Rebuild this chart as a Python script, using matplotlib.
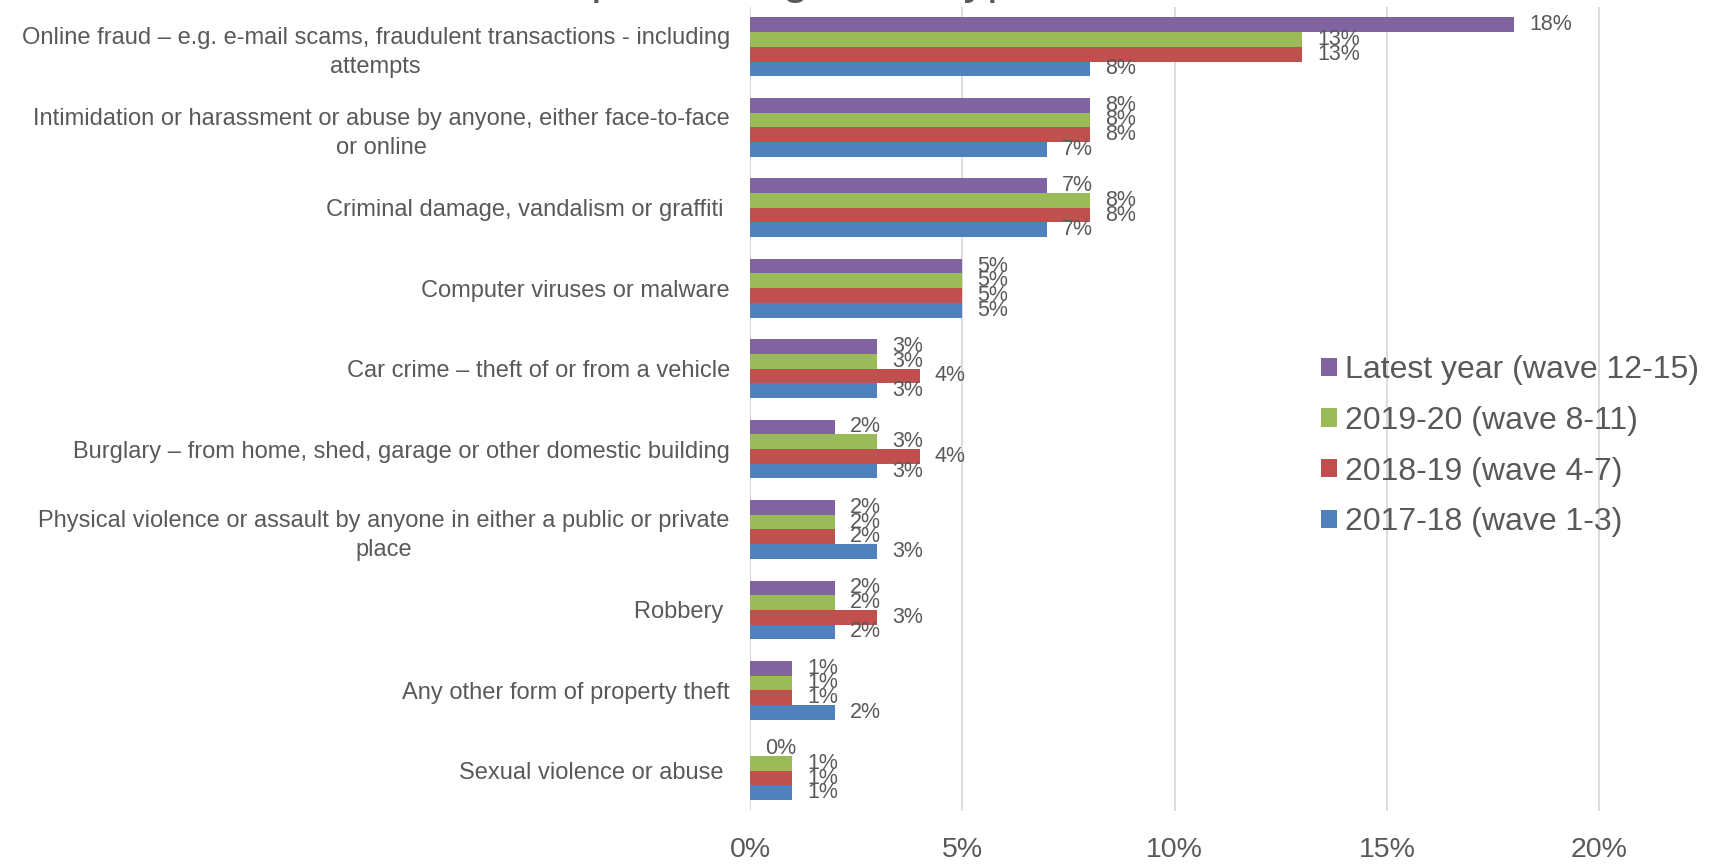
#!/usr/bin/env python3
import numpy as np
import matplotlib as mpl
mpl.use("Agg")
import matplotlib.pyplot as plt

mpl.rcParams.update({
    "font.family": ["Liberation Sans", "DejaVu Sans"],
    "text.color": "#595959",
    "xtick.color": "#595959",
    "ytick.color": "#595959",
})

# Data (percent)
categories = [
    "Online fraud \u2013 e.g. e-mail scams, fraudulent transactions - including\nattempts",
    "Intimidation or harassment or abuse by anyone, either face-to-face\nor online",
    "Criminal damage, vandalism or graffiti ",
    "Computer viruses or malware",
    "Car crime \u2013 theft of or from a vehicle",
    "Burglary \u2013 from home, shed, garage or other domestic building",
    "Physical violence or assault by anyone in either a public or private\nplace",
    "Robbery ",
    "Any other form of property theft",
    "Sexual violence or abuse ",
]
series_names = [
    "Latest year (wave 12-15)",
    "2019-20 (wave 8-11)",
    "2018-19 (wave 4-7)",
    "2017-18 (wave 1-3)",
]
latest = [18, 8, 7, 5, 3, 2, 2, 2, 1, 0]
y2019_20 = [13, 8, 8, 5, 3, 3, 2, 2, 1, 1]
y2018_19 = [13, 8, 8, 5, 4, 4, 2, 3, 1, 1]
y2017_18 = [8, 7, 7, 5, 3, 3, 3, 2, 2, 1]
x_ticks = [0, 5, 10, 15, 20, 25]

colors = ["#8064A2", "#9BBB59", "#C0504D", "#4F81BD"]

W, H = 1710, 864
fig = plt.figure(figsize=(W / 100, H / 100), dpi=100)
ax_left, ax_right = 750, 1811.5
ax_top, ax_bot = 6.6, 811
ax = fig.add_axes([ax_left / W, 1 - ax_bot / H,
                   (ax_right - ax_left) / W, (ax_bot - ax_top) / H])

series = [latest, y2019_20, y2018_19, y2017_18]
y = np.arange(len(categories))
h = 0.1825
offsets = [-1.5 * h, -0.5 * h, 0.5 * h, 1.5 * h]

for vals, name, col, off in zip(series, series_names, colors, offsets):
    ax.barh(y + off, vals, height=h, color=col, label=name, zorder=3)
    for yi, v in zip(y, vals):
        ax.annotate(f"{v}%", xy=(v, yi + off), xytext=(15, 0),
                    textcoords="offset pixels", ha="left", va="center",
                    fontsize=15.5, color="#595959", zorder=4)

ax.set_ylim(len(categories) - 0.5, -0.5)
ax.set_xlim(0, 25)
ax.set_xticks(x_ticks)
ax.set_xticklabels([f"{t}%" for t in x_ticks], fontsize=20.5)
ax.set_yticks(y)
ax.set_yticklabels(categories, fontsize=17)
for t in ax.get_yticklabels():
    t.set_multialignment("center")
    t.set_linespacing(1.4)
ax.tick_params(axis="both", length=0)
ax.tick_params(axis="y", pad=14.5)
ax.tick_params(axis="x", pad=19)

for s in ax.spines.values():
    s.set_visible(False)
ax.grid(axis="x", color="#D9D9D9", lw=1.3, zorder=0)
ax.set_axisbelow(True)

# title is cropped at the top edge in the reference: only descenders show
fig.text(800 / W, 1 + 7 / H, "Experiencing crime types", ha="center",
         va="baseline", fontsize=34, color="#595959")

fig.legend(loc="upper left", bbox_to_anchor=(1321 / W, 1 - 355 / H),
           frameon=False, fontsize=23, handlelength=0.5, handleheight=0.5,
           handletextpad=0.25, labelspacing=0.65, borderpad=0, borderaxespad=0)

fig.savefig("out.png", dpi=100)
